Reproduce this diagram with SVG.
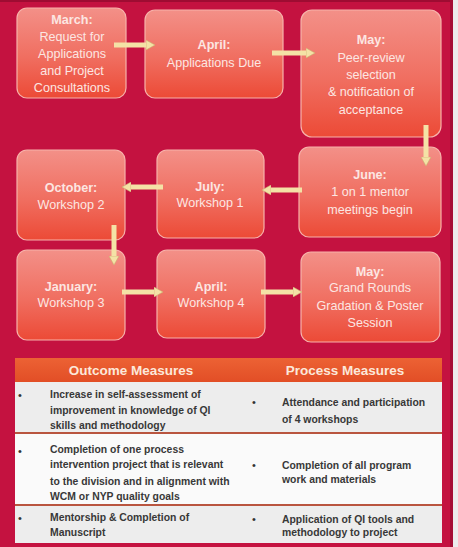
<svg xmlns="http://www.w3.org/2000/svg" width="458" height="547" viewBox="0 0 458 547">
<defs>
<linearGradient id="boxg" x1="0" y1="0" x2="0" y2="1">
<stop offset="0" stop-color="#F39088"/>
<stop offset="0.55" stop-color="#F06E60"/>
<stop offset="1" stop-color="#EC4A36"/>
</linearGradient>
<linearGradient id="hdrg" x1="0" y1="0" x2="0" y2="1">
<stop offset="0" stop-color="#EC6234"/>
<stop offset="1" stop-color="#E24E26"/>
</linearGradient>
<marker id="ah" markerUnits="userSpaceOnUse" markerWidth="9" markerHeight="10" refX="1" refY="5" orient="auto">
<path d="M0,0 L9,5 L0,10 Z" fill="#F4E2A6" stroke="#C9B070" stroke-width="0.6"/>
</marker>
</defs>
<style>
.box{fill:url(#boxg);stroke:#F7B2AA;stroke-width:1.2}
.bt{font-family:"Liberation Sans",Arial,sans-serif;font-size:12.6px;fill:#FCE6E2;text-anchor:middle}
.bt .h{font-weight:bold}
.conn{stroke:#F4E2A6;stroke-width:5;fill:none;marker-end:url(#ah)}
.th{font-family:"Liberation Sans",Arial,sans-serif;font-size:13.5px;font-weight:bold;fill:#FCE8DA;text-anchor:middle}
.td{font-family:"Liberation Sans",Arial,sans-serif;font-size:10.4px;font-weight:bold;fill:#383838}
.bul{font-family:"Liberation Sans",Arial,sans-serif;font-size:11px;fill:#333}
</style>
<rect x="0" y="0" width="458" height="547" fill="#C41240"/>
<rect x="0" y="0" width="458" height="2" fill="#9E0C32"/>
<rect x="450" y="0" width="3" height="547" fill="#A50E35"/>
<rect x="453" y="0" width="5" height="547" fill="#ECECEC"/>

<g id="n-march"><rect class="box" x="17" y="8" width="109" height="90" rx="10"/>
<text class="bt" x="72"><tspan class="h" x="72" y="24">March:</tspan><tspan x="72" y="41">Request for</tspan><tspan x="72" y="58">Applications</tspan><tspan x="72" y="75">and Project</tspan><tspan x="72" y="92">Consultations</tspan></text></g>
<g id="n-april1"><rect class="box" x="145" y="10" width="138" height="88" rx="10"/>
<text class="bt"><tspan class="h" x="214" y="49">April:</tspan><tspan x="214" y="67">Applications Due</tspan></text></g>
<g id="n-may1"><rect class="box" x="301" y="10" width="140" height="127" rx="11"/>
<text class="bt"><tspan class="h" x="371" y="44">May:</tspan><tspan x="371" y="62">Peer-review</tspan><tspan x="371" y="79">selection</tspan><tspan x="371" y="96">&amp; notification of</tspan><tspan x="371" y="114">acceptance</tspan></text></g>
<g id="n-june"><rect class="box" x="299" y="147" width="142" height="90" rx="10"/>
<text class="bt"><tspan class="h" x="370" y="179">June:</tspan><tspan x="370" y="196">1 on 1 mentor</tspan><tspan x="370" y="214">meetings begin</tspan></text></g>
<g id="n-july"><rect class="box" x="157" y="150" width="107" height="88" rx="10"/>
<text class="bt"><tspan class="h" x="210" y="191">July:</tspan><tspan x="210" y="207">Workshop 1</tspan></text></g>
<g id="n-october"><rect class="box" x="17" y="150" width="108" height="90" rx="10"/>
<text class="bt"><tspan class="h" x="71" y="192">October:</tspan><tspan x="71" y="209">Workshop 2</tspan></text></g>
<g id="n-january"><rect class="box" x="17" y="250" width="108" height="90" rx="10"/>
<text class="bt"><tspan class="h" x="71" y="291">January:</tspan><tspan x="71" y="307">Workshop 3</tspan></text></g>
<g id="n-april2"><rect class="box" x="157" y="250" width="108" height="88" rx="10"/>
<text class="bt"><tspan class="h" x="211" y="291">April:</tspan><tspan x="211" y="307">Workshop 4</tspan></text></g>
<g id="n-may2"><rect class="box" x="301" y="252" width="139" height="90" rx="10"/>
<text class="bt"><tspan class="h" x="370" y="276">May:</tspan><tspan x="370" y="292">Grand Rounds</tspan><tspan x="370" y="310">Gradation &amp; Poster</tspan><tspan x="370" y="327">Session</tspan></text></g>

<g id="connectors">
<line class="conn" x1="114" y1="45" x2="147" y2="45"/>
<line class="conn" x1="272" y1="53" x2="307" y2="53"/>
<line class="conn" x1="426" y1="125" x2="426" y2="158"/>
<line class="conn" x1="302" y1="190" x2="270" y2="190"/>
<line class="conn" x1="163" y1="187" x2="130" y2="187"/>
<line class="conn" x1="114" y1="225" x2="114" y2="257"/>
<line class="conn" x1="122" y1="292" x2="155" y2="292"/>
<line class="conn" x1="261" y1="292" x2="294" y2="292"/>
</g>

<g id="table">
<rect x="15" y="358" width="427" height="24" fill="url(#hdrg)"/>
<text class="th" x="131" y="375">Outcome Measures</text>
<text class="th" x="345" y="375">Process Measures</text>
<rect x="15" y="382" width="427" height="51" fill="#EDEDED"/>
<rect x="15" y="433" width="427" height="72" fill="#FAFAFA"/>
<rect x="15" y="505" width="427" height="38" fill="#EDEDED"/>
<line x1="15" y1="433" x2="442" y2="433" stroke="#B9553F" stroke-width="2"/>
<line x1="15" y1="505" x2="442" y2="505" stroke="#B9553F" stroke-width="2"/>
<g class="bul"><text x="18" y="399">•</text><text x="18" y="455">•</text><text x="18" y="522">•</text>
<text x="252" y="406">•</text><text x="252" y="469">•</text><text x="252" y="523">•</text></g>
<text class="td"><tspan x="50" y="398">Increase in self-assessment of</tspan><tspan x="50" y="414">improvement in knowledge of QI</tspan><tspan x="50" y="429">skills and methodology</tspan></text>
<text class="td"><tspan x="50" y="453">Completion of one process</tspan><tspan x="50" y="468">intervention project that is relevant</tspan><tspan x="50" y="485">to the division and in alignment with</tspan><tspan x="50" y="500">WCM or NYP quality goals</tspan></text>
<text class="td"><tspan x="50" y="521">Mentorship &amp; Completion of</tspan><tspan x="50" y="536">Manuscript</tspan></text>
<text class="td"><tspan x="282" y="406">Attendance and participation</tspan><tspan x="282" y="423">of 4 workshops</tspan></text>
<text class="td"><tspan x="282" y="469">Completion of all program</tspan><tspan x="282" y="483">work and materials</tspan></text>
<text class="td"><tspan x="282" y="523">Application of QI tools and</tspan><tspan x="282" y="536">methodology to project</tspan></text>
</g>
</svg>
